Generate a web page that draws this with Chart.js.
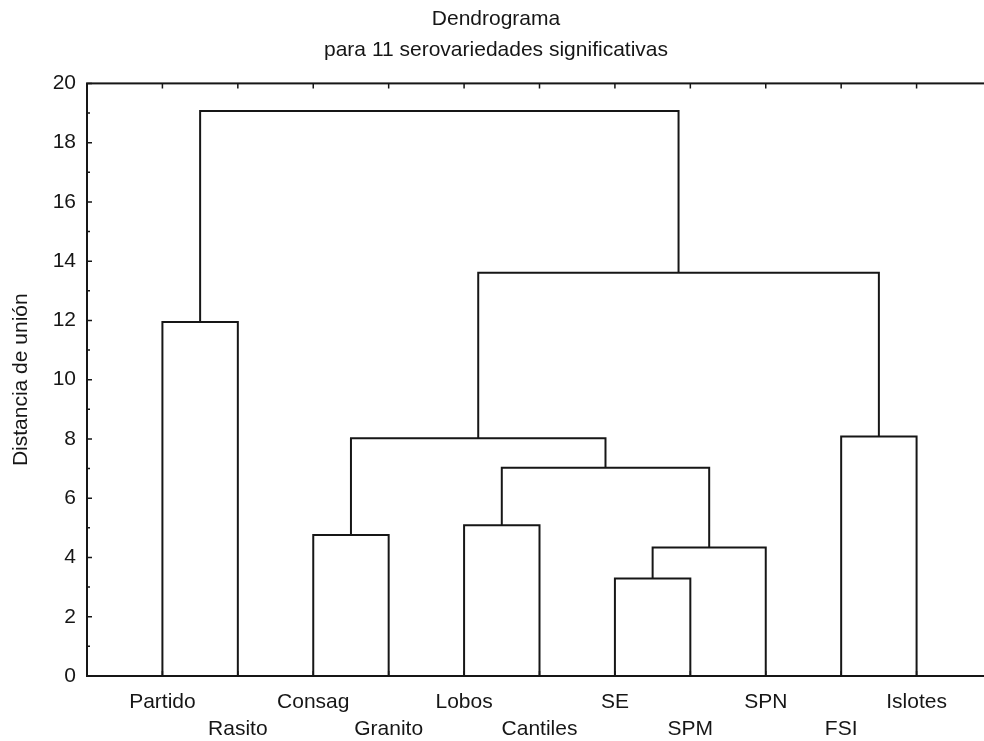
<!DOCTYPE html>
<html>
<head>
<meta charset="utf-8">
<title>Dendrograma</title>
<script src="https://cdn.jsdelivr.net/npm/chart.js@4/dist/chart.umd.min.js"></script>
<style>
  html, body { margin:0; padding:0; background:#fff; overflow:hidden; }
  #wrap { width:1000px; height:741px; }
</style>
</head>
<body>
<div id="wrap"><canvas id="dendro" width="1000" height="741"></canvas></div>
<script>
// Leaves in plot order (bottom axis)
const leaves = ["Partido","Rasito","Consag","Granito","Lobos","Cantiles","SE","SPM","SPN","FSI","Islotes"];
// Merges: node ids 0..10 are leaves, 11.. are merges in this order
const mergeLeft   = [0, 2, 4, 6, 14, 13, 12, 9, 17, 11];
const mergeRight  = [1, 3, 5, 7, 8, 15, 16, 10, 18, 19];
const mergeHeight = [11.95, 4.76, 5.09, 3.29, 4.34, 7.03, 8.02, 8.08, 13.61, 19.07];
// y axis
const yMin = 0, yMax = 20, yStep = 2;

const ink = "#161616";
Chart.defaults.font.family = "'Liberation Sans', Arial, sans-serif";
Chart.defaults.color = ink;

// node positions: leaves at 1..n, merges at midpoint of children
const nodeX = leaves.map((_, i) => i + 1);
const nodeY = leaves.map(() => 0);
mergeHeight.forEach((h, k) => {
  nodeX.push((nodeX[mergeLeft[k]] + nodeX[mergeRight[k]]) / 2);
  nodeY.push(h);
});

const datasets = mergeHeight.map((h, k) => {
  const a = mergeLeft[k], b = mergeRight[k];
  return {
    data: [
      { x: nodeX[a], y: nodeY[a] },
      { x: nodeX[a], y: h },
      { x: nodeX[b], y: h },
      { x: nodeX[b], y: nodeY[b] }
    ],
    showLine: true, borderColor: ink, borderWidth: 2, pointRadius: 0,
    borderJoinStyle: "miter", borderCapStyle: "butt", tension: 0
  };
});

// frame + inward tick marks (top, left, bottom)
const frame = {
  id: "frame",
  afterDatasetsDraw(chart) {
    const { ctx, chartArea: a, scales: { x, y } } = chart;
    ctx.save();
    ctx.strokeStyle = ink;
    ctx.lineWidth = 2;
    ctx.strokeRect(a.left, a.top, a.right - a.left, a.bottom - a.top);
    ctx.lineWidth = 1.5;
    ctx.beginPath();
    leaves.forEach((_, i) => {
      const px = x.getPixelForValue(i + 1);
      ctx.moveTo(px, a.top); ctx.lineTo(px, a.top + 5);
      ctx.moveTo(px, a.bottom); ctx.lineTo(px, a.bottom - 5);
    });
    for (let v = yMin; v <= yMax; v++) {
      const py = y.getPixelForValue(v);
      ctx.moveTo(a.left, py); ctx.lineTo(a.left + (v % 2 === 0 ? 5 : 3), py);
    }
    ctx.stroke();
    ctx.restore();
  }
};

new Chart(document.getElementById("dendro"), {
  type: "scatter",
  data: { datasets },
  plugins: [frame],
  options: {
    responsive: false,
    animation: false,
    layout: { padding: { left: 0, right: 8, top: 0, bottom: 0 } },
    plugins: {
      legend: { display: false },
      tooltip: { enabled: false },
      title: {
        display: true, text: "Dendrograma", color: ink,
        font: { size: 21, weight: "normal", lineHeight: 1.2 },
        padding: { top: 7, bottom: 0 }
      },
      subtitle: {
        display: true, text: "para 11 serovariedades significativas", color: ink,
        font: { size: 21, weight: "normal", lineHeight: 1.2 },
        padding: { top: 5, bottom: 21 }
      }
    },
    scales: {
      x: {
        type: "linear", min: 0, max: leaves.length + 1,
        afterBuildTicks: s => { s.ticks = leaves.map((_, i) => ({ value: i + 1 })); },
        afterFit: s => { s.height = 65; },
        grid: { display: false, drawTicks: false },
        border: { display: false },
        ticks: {
          autoSkip: false, maxRotation: 0, padding: 12, color: ink,
          font: { size: 21, lineHeight: 1.31 },
          callback: (v, i) => i % 2 === 0 ? [leaves[i]] : ["", leaves[i]]
        }
      },
      y: {
        min: yMin, max: yMax,
        afterFit: s => { s.width = 87; },
        grid: { display: false, drawTicks: false },
        border: { display: false },
        ticks: { stepSize: yStep, padding: 11, color: ink, font: { size: 21 } },
        title: {
          display: true, text: "Distancia de unión", color: ink,
          font: { size: 21, lineHeight: 1.2 },
          padding: { top: 9, bottom: 0 }
        }
      }
    }
  }
});
</script>
</body>
</html>
